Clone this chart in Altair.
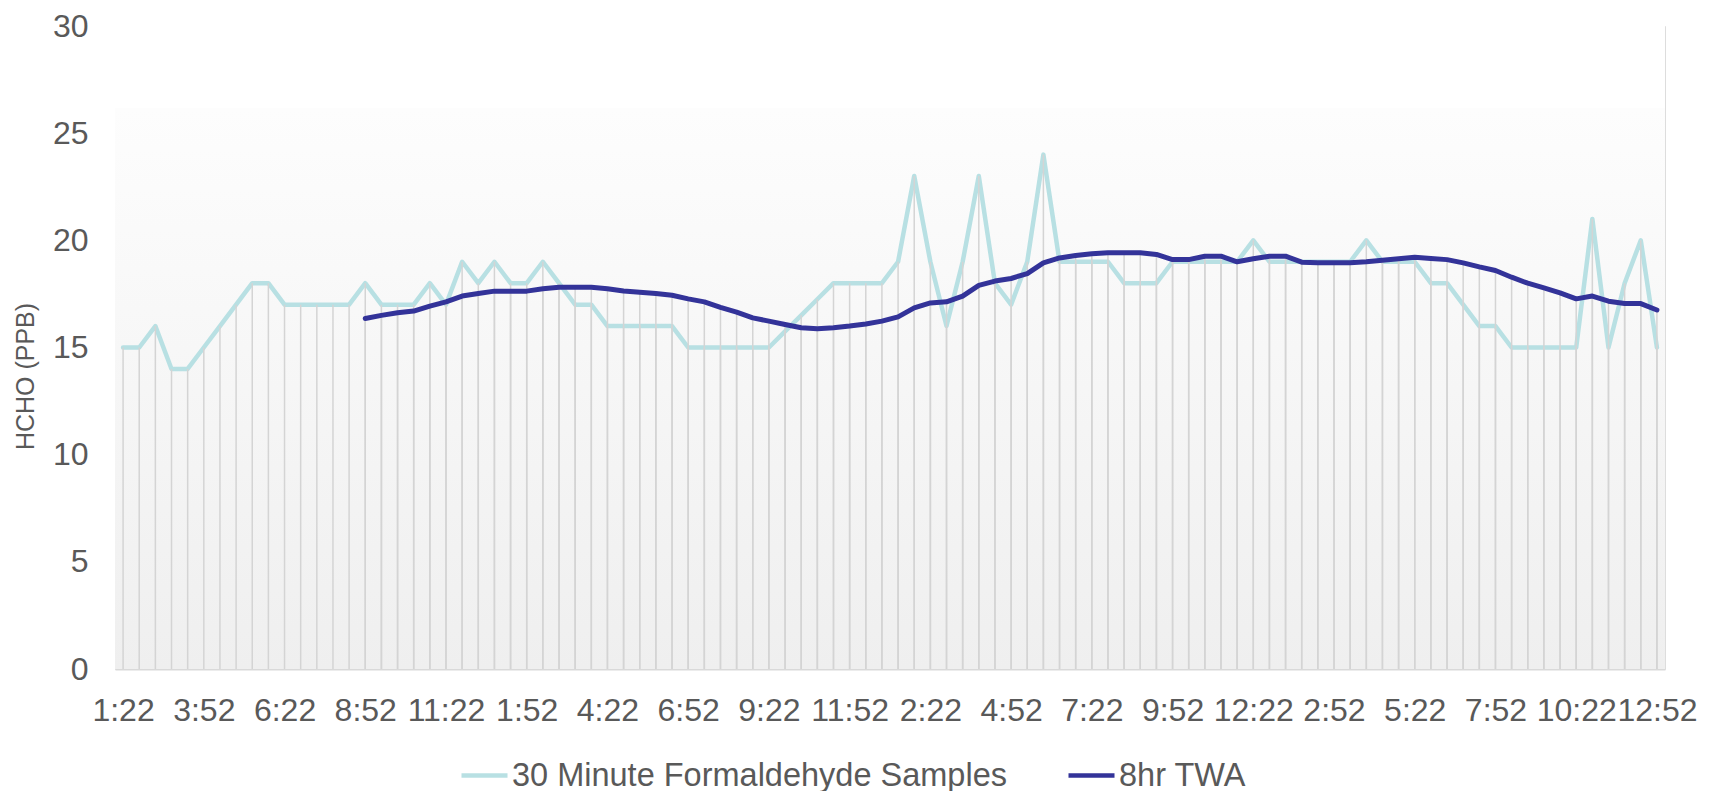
import altair as alt
import pandas as pd

# ---------------- data ----------------
tick_labels = ["1:22", "3:52", "6:22", "8:52", "11:22", "1:52", "4:22", "6:52", "9:22", "11:52",
               "2:22", "4:52", "7:22", "9:52", "12:22", "2:52", "5:22", "7:52", "10:22", "12:52"]

samples = [15, 15, 16, 14, 14, 15, 16, 17, 18, 18,
           17, 17, 17, 17, 17, 18, 17, 17, 17, 18,
           17, 19, 18, 19, 18, 18, 19, 18, 17, 17,
           16, 16, 16, 16, 16, 15, 15, 15, 15, 15,
           15, 15.75, 16.5, 17.25, 18, 18, 18, 18, 19, 23,
           19, 16, 19, 23, 18, 17, 19, 24, 19, 19,
           19, 19, 18, 18, 18, 19, 19, 19, 19, 19,
           20, 19, 19, 19, 19, 19, 19, 20, 19, 19,
           19, 18, 18, 17, 16, 16, 15, 15, 15, 15,
           15, 21, 15, 18, 20, 15]

twa = [None] * 15 + [
    16.35, 16.5, 16.62, 16.7, 16.93,
    17.13, 17.4, 17.52, 17.63, 17.63, 17.63, 17.74, 17.81, 17.81, 17.81,
    17.74, 17.64, 17.58, 17.52, 17.44, 17.27, 17.13, 16.87, 16.65, 16.38,
    16.23, 16.07, 15.92, 15.87, 15.92, 16.0, 16.1, 16.23, 16.43, 16.85,
    17.08, 17.13, 17.4, 17.9, 18.1, 18.22, 18.45, 18.95, 19.18, 19.29,
    19.37, 19.42, 19.42, 19.42, 19.34, 19.1, 19.1, 19.26, 19.26, 19.0,
    19.14, 19.26, 19.26, 18.98, 18.95, 18.95, 18.95, 19.0, 19.07, 19.14,
    19.21, 19.15, 19.1, 18.95, 18.76, 18.59, 18.28, 18.0, 17.78, 17.55,
    17.27, 17.4, 17.16, 17.05, 17.05, 16.75]

SERIES_A = "30 Minute Formaldehyde Samples"
SERIES_B = "8hr TWA"

rows = []
for i, v in enumerate(samples):
    rows.append({"idx": i, "series": SERIES_A, "value": v})
for i, v in enumerate(twa):
    if v is not None:
        rows.append({"idx": i, "series": SERIES_B, "value": v})
df = pd.DataFrame(rows)

# ---------------- styling ----------------
W, H = 1550, 643
FONT = "Liberation Sans"
TXT = "#595959"
LIGHT = "#b8e0e3"
DARK = "#333399"

label_expr = "[" + ",".join("'%s'" % t for t in tick_labels) + "][round(datum.value / 5)]"

x_enc = alt.X(
    "idx:Q",
    scale=alt.Scale(domain=[-0.5, len(samples) - 0.5], nice=False, zero=False),
    axis=alt.Axis(
        values=list(range(0, len(samples), 5)),
        labelExpr=label_expr,
        title=None,
        grid=False,
        ticks=False,
        domain=True,
        domainColor="#d9d9d9",
        domainWidth=2,
        labelFont=FONT,
        labelFontSize=32,
        labelColor=TXT,
        labelPadding=26,
        labelOverlap=False,
        labelFlush=False,
        labelBound=False,
    ),
)

y_enc = alt.Y(
    "value:Q",
    scale=alt.Scale(domain=[0, 30], nice=False),
    axis=alt.Axis(
        values=[0, 5, 10, 15, 20, 25, 30],
        title="HCHO (PPB)",
        grid=False,
        ticks=False,
        domain=False,
        labelFont=FONT,
        labelFontSize=32,
        labelColor=TXT,
        labelPadding=27,
        titleFont=FONT,
        titleFontSize=25,
        titleFontWeight="normal",
        titleColor=TXT,
        titleAngle=-90,
        titleAlign="center",
        titleBaseline="middle",
        titleX=-90,
        titleY=350,
    ),
)

color_enc = alt.Color(
    "series:N",
    scale=alt.Scale(domain=[SERIES_A, SERIES_B], range=[LIGHT, DARK]),
    legend=alt.Legend(
        title=None,
        orient="none",
        direction="horizontal",
        legendX=344,
        legendY=724,
        labelFont=FONT,
        labelFontSize=32.5,
        labelColor=TXT,
        labelLimit=0,
        symbolType="stroke",
        symbolSize=2116,
        symbolStrokeWidth=4.5,
        labelOffset=2,
        columnPadding=52,
    ),
)

bg = alt.Chart(pd.DataFrame({"a": [0]})).mark_rect(
    color=alt.LinearGradient(
        gradient="linear",
        stops=[alt.GradientStop(color="#ffffff", offset=0),
               alt.GradientStop(color="#ffffff", offset=0.127),
               alt.GradientStop(color="#fdfdfd", offset=0.128),
               alt.GradientStop(color="#efefef", offset=1)],
        x1=0, x2=0, y1=0, y2=1,
    )
).encode(x=alt.value(0), x2=alt.value(W), y=alt.value(0), y2=alt.value(H))

sample_line = alt.Chart(df).transform_filter(
    alt.datum.series == SERIES_A
).mark_line(strokeWidth=4.5, strokeJoin="round", strokeCap="round").encode(
    x=x_enc, y=y_enc, color=color_enc, order="idx:Q"
)

drops = alt.Chart(df).mark_rule(color="#d4d4d4", strokeWidth=1.5).encode(
    x=x_enc, y=y_enc, y2=alt.datum(0)
)

twa_line = alt.Chart(df).transform_filter(
    alt.datum.series == SERIES_B
).mark_line(strokeWidth=5, strokeJoin="round", strokeCap="round").encode(
    x=x_enc, y=y_enc, color=color_enc, order="idx:Q"
)

chart = alt.layer(bg, sample_line, drops, twa_line).properties(
    width=W,
    height=H,
    autosize=alt.AutoSizeParams(type="none"),
    padding={"left": 107, "top": 18, "right": 35, "bottom": 122},
    background="white",
).configure_view(stroke=None).configure(font=FONT)

chart.save("out.html", embed_options={"renderer": "svg", "actions": False})
